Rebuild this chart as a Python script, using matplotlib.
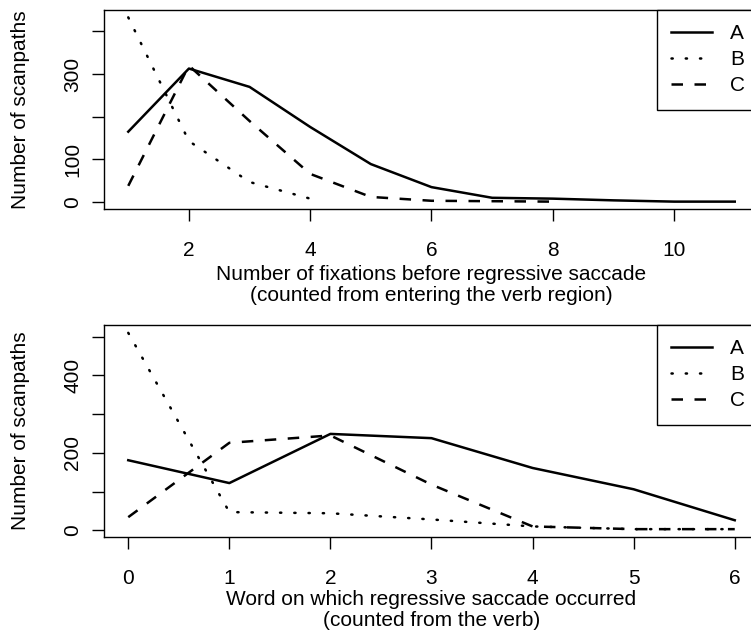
import matplotlib
matplotlib.use("Agg")
import matplotlib.pyplot as plt
from matplotlib.lines import Line2D

plt.rcParams['font.family'] = ['Liberation Sans', 'DejaVu Sans']
plt.rcParams['font.size'] = 15

# top panel: fixations before regressive saccade
fix_x = [1, 2, 3, 4, 5, 6, 7, 8, 9, 10, 11]
fix_a = [165, 313, 270, 176, 89, 35, 10, 8, 4, 1, 1]
fix_b = [433, 143, 47, 8]
fix_c = [38, 320, 190, 66, 12, 3, 2, 1]
fix_xticks = [2, 4, 6, 8, 10]
fix_yticks = [0, 100, 200, 300, 400]
fix_ylabels = ['0', '100', '', '300', '']

# bottom panel: word on which regression occurred
word_x = [0, 1, 2, 3, 4, 5, 6]
word_a = [181, 122, 249, 238, 161, 106, 26]
word_b = [510, 47, 44, 28, 10, 3, 3]
word_c = [34, 226, 245, 118, 10, 3, 3]
word_yticks = [0, 100, 200, 300, 400, 500]
word_ylabels = ['0', '', '200', '', '400', '']

names = ['A', 'B', 'C']
lw = 1.8
styles = {
    'A': dict(linestyle='-'),
    'B': dict(linestyle=(0, (0.5, 5.2)), dash_capstyle='round'),
    'C': dict(linestyle=(0, (4.6, 4.6))),
}

W, H = 751, 637
fig = plt.figure(figsize=(W / 100, H / 100), dpi=100)

def pad(lo, hi):
    r = hi - lo
    return lo - 0.04 * r, hi + 0.04 * r

def panel(rect, series, xticks, yticks, ylabels, xlabel, xlab_y):
    ax = fig.add_axes(rect)
    for nm, (sx, sy) in zip(names, series):
        ax.plot(sx, sy, color='black', lw=lw, **styles[nm])
    allx = [v for sx, _ in series for v in sx]
    ally = [v for _, sy in series for v in sy]
    ax.set_xlim(*pad(min(allx), max(allx)))
    ax.set_ylim(*pad(min(ally), max(ally)))
    ax.set_xticks(xticks)
    ax.set_yticks(yticks)
    ax.set_yticklabels(ylabels, rotation=90, va='center')
    ax.tick_params(direction='out', length=8.5, width=1, labelsize=15)
    ax.tick_params(axis='x', pad=14.5)
    ax.tick_params(axis='y', pad=7)
    for s in ax.spines.values():
        s.set_linewidth(1)
    ax.set_ylabel('Number of scanpaths', fontsize=15)
    ax.yaxis.set_label_coords(-0.113, 0.5)
    ax.set_xlabel(xlabel, fontsize=15, linespacing=1.15)
    ax.xaxis.set_label_coords(0.5, xlab_y)
    handles = [Line2D([], [], color='black', lw=lw, **styles[nm]) for nm in names]
    leg = ax.legend(handles, names, loc='upper right', borderaxespad=0,
                    fancybox=False, edgecolor='black', framealpha=1,
                    handlelength=1.95, handletextpad=0.85, labelspacing=0.34,
                    borderpad=0.68, fontsize=15)
    leg.get_frame().set_linewidth(1)
    return ax

left = 104 / W
width = (759 - 104) / W
panel([left, 1 - 209 / H, width, (209 - 10) / H],
      [(fix_x, fix_a), (fix_x[:len(fix_b)], fix_b), (fix_x[:len(fix_c)], fix_c)],
      fix_xticks, fix_yticks, fix_ylabels,
      'Number of fixations before regressive saccade\n(counted from entering the verb region)',
      -0.28)
panel([left, 1 - 537 / H, width, (537 - 325) / H],
      [(word_x, word_a), (word_x, word_b), (word_x, word_c)],
      word_x, word_yticks, word_ylabels,
      'Word on which regressive saccade occurred\n(counted from the verb)',
      -0.25)

fig.savefig('out.png', dpi=100)
